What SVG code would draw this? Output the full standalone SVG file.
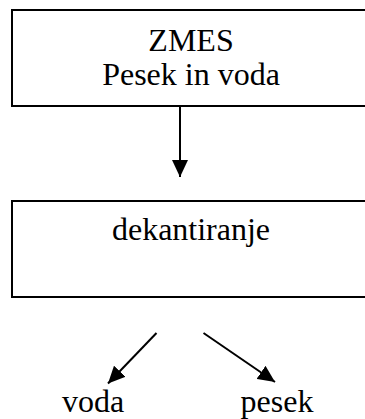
<svg xmlns="http://www.w3.org/2000/svg" width="365" height="419" viewBox="0 0 365 419">
<defs>
<style>
.box{fill:#fff;stroke:#000;stroke-width:2}
.t{font-family:"Liberation Serif","Times New Roman",serif;font-size:32px;fill:#000;text-anchor:middle}
.c{stroke:#000;stroke-width:2;fill:none}
</style>
<marker id="ah" markerUnits="userSpaceOnUse" markerWidth="18" markerHeight="16" refX="17" refY="8" orient="auto">
<path d="M0,0 L17,8 L0,16 Z" fill="#000"/>
</marker>
</defs>
<rect width="365" height="419" fill="#fff"/>
<g id="node-zmes">
<rect class="box" x="12" y="10" width="360" height="96"/>
<text class="t" x="191" y="51">ZMES</text>
<text class="t" x="191" y="85">Pesek in voda</text>
</g>
<g id="node-dekantiranje">
<rect class="box" x="12" y="201" width="360" height="96"/>
<text class="t" x="191" y="240">dekantiranje</text>
</g>
<g id="node-voda">
<text class="t" x="93" y="412">voda</text>
</g>
<g id="node-pesek">
<text class="t" x="277" y="412">pesek</text>
</g>
<g id="connectors">
<line class="c" x1="180" y1="106" x2="180" y2="177" marker-end="url(#ah)"/>
<line class="c" x1="156.5" y1="333" x2="108" y2="383.5" marker-end="url(#ah)"/>
<line class="c" x1="203.5" y1="333" x2="275" y2="382" marker-end="url(#ah)"/>
</g>
</svg>
